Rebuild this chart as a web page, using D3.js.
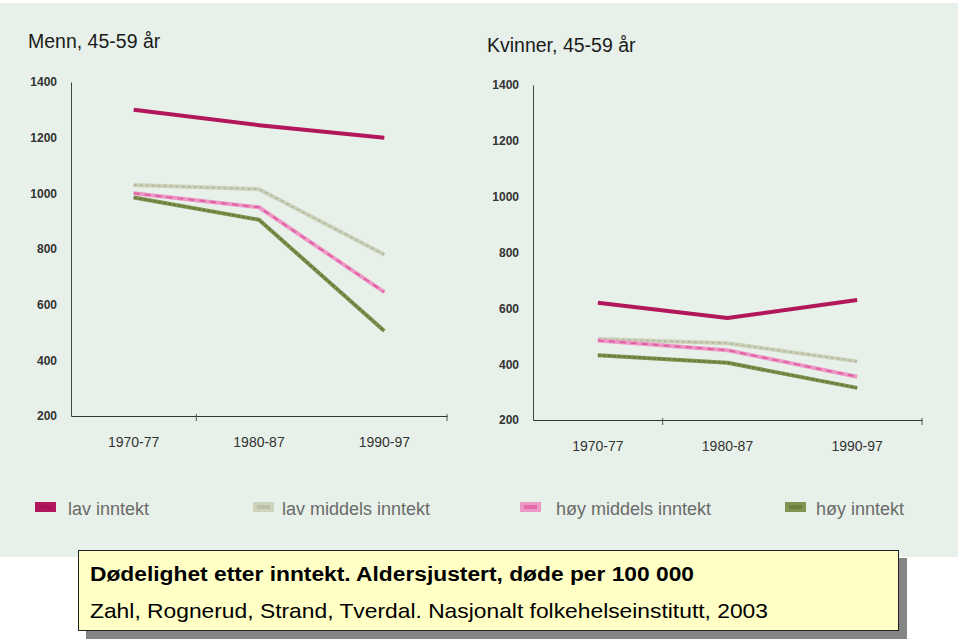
<!DOCTYPE html>
<html><head><meta charset="utf-8">
<script src="https://cdn.jsdelivr.net/npm/d3@7"></script>
<style>body{margin:0;background:#fff}svg{display:block}</style>
</head><body>
<svg id="c" width="960" height="640"></svg>
<script>
const categories = ["1970-77", "1980-87", "1990-97"];
const yTicks = [200, 400, 600, 800, 1000, 1200, 1400];
const seriesNames = ["lav inntekt", "lav middels inntekt", "høy middels inntekt", "høy inntekt"];
const menLav = [1300, 1245, 1200];
const menLavMiddels = [1030, 1015, 780];
const menHoyMiddels = [1000, 950, 645];
const menHoy = [985, 905, 505];
const womenLav = [620, 565, 630];
const womenLavMiddels = [490, 475, 410];
const womenHoyMiddels = [485, 450, 355];
const womenHoy = [432, 405, 315];
const panelTitles = ["Menn, 45-59 år", "Kvinner, 45-59 år"];
const captionTitle = "Dødelighet etter inntekt. Aldersjustert, døde per 100 000";
const captionSource = "Zahl, Rognerud, Strand, Tverdal. Nasjonalt folkehelseinstitutt, 2003";

const styles = [
  {base:"#b3175b", over:"#9c1050", dash:null},
  {base:"#cdd2bb", over:"#a9ae97", dash:"3,3"},
  {base:"#ee98c6", over:"#d63d90", dash:"6,5"},
  {base:"#7f9450", over:"#56692f", dash:"3,2"}
];

const svg = d3.select("#c");
const font = "'Liberation Sans', Arial, sans-serif";

svg.append("rect").attr("x",0).attr("y",3).attr("width",958).attr("height",554).attr("fill","#e7f1e9");

const panels = [
  {title: panelTitles[0], tx:28, ty:48, x0:71, x1:447, yTop:82, yBot:416, data:[menLav, menLavMiddels, menHoyMiddels, menHoy]},
  {title: panelTitles[1], tx:487, ty:52, x0:533, x1:922, yTop:85, yBot:420, data:[womenLav, womenLavMiddels, womenHoyMiddels, womenHoy]}
];

panels.forEach(p => {
  const x = d3.scaleBand().domain(categories).range([p.x0, p.x1]);
  const y = d3.scaleLinear().domain([200, 1400]).range([p.yBot, p.yTop]);
  svg.append("text").attr("x", p.tx).attr("y", p.ty).attr("font-family", font)
    .attr("font-size", 19.5).attr("fill", "#1a1a1a").text(p.title);

  const yAxis = d3.axisLeft(y).tickValues(yTicks).tickSize(0).tickPadding(14).tickFormat(d3.format("d"));
  const gy = svg.append("g").attr("transform", `translate(${p.x0},0)`).call(yAxis);
  gy.select(".domain").attr("stroke", "#444").attr("stroke-width", 1);
  gy.selectAll("text").attr("font-family", font).attr("font-size", 12).attr("font-weight", "bold").attr("fill", "#333");

  const xAxis = d3.axisBottom(x).tickSize(0).tickPadding(21);
  const gx = svg.append("g").attr("transform", `translate(0,${p.yBot})`).call(xAxis);
  gx.select(".domain").attr("stroke", "#333").attr("stroke-width", 1.2);
  gx.selectAll("text").attr("font-family", font).attr("font-size", 14).attr("fill", "#333");
  // band boundary ticks (first boundary and end)
  svg.append("g").selectAll("line").data([categories[1], "end"]).join("line")
    .attr("x1", d => d === "end" ? p.x1 : x(d)).attr("x2", d => d === "end" ? p.x1 : x(d))
    .attr("y1", p.yBot - 2).attr("y2", p.yBot + 5).attr("stroke", "#555").attr("stroke-width", 1);

  const line = d3.line().x((d, i) => x(categories[i]) + x.bandwidth() / 2).y(d => y(d));
  p.data.forEach((vals, si) => {
    const s = styles[si];
    svg.append("path").attr("d", line(vals)).attr("fill", "none").attr("stroke", s.base)
      .attr("stroke-width", 4).attr("stroke-linejoin", "round");
    if (s.dash) {
      svg.append("path").attr("d", line(vals)).attr("fill", "none").attr("stroke", s.over)
        .attr("stroke-width", 2).attr("stroke-dasharray", s.dash).attr("opacity", 0.6);
    }
  });
});

// legend
const legendX = [35, 253, 520, 785];
const legendTextX = [68, 282, 556, 816];
seriesNames.forEach((n, i) => {
  svg.append("rect").attr("x", legendX[i]).attr("y", 502).attr("width", 21).attr("height", 10)
    .attr("fill", styles[i].base);
  svg.append("rect").attr("x", legendX[i] + 4).attr("y", 505).attr("width", 13).attr("height", 4)
    .attr("fill", styles[i].over).attr("opacity", 0.5);
  svg.append("text").attr("x", legendTextX[i]).attr("y", 515).attr("font-family", font)
    .attr("font-size", 18).attr("fill", "#6a6a6a").text(n);
});

// caption box
svg.append("rect").attr("x", 86).attr("y", 558).attr("width", 821).attr("height", 81).attr("fill", "#858585");
svg.append("rect").attr("x", 78.5).attr("y", 550.5).attr("width", 820).attr("height", 80)
  .attr("fill", "#ffffc6").attr("stroke", "#222").attr("stroke-width", 1);
svg.append("text").attr("x", 90).attr("y", 581).attr("font-family", font).attr("font-size", 20)
  .attr("font-weight", "bold").attr("fill", "#000")
  .attr("textLength", 604).attr("lengthAdjust", "spacingAndGlyphs").text(captionTitle);
svg.append("text").attr("x", 90).attr("y", 618).attr("font-family", font).attr("font-size", 21)
  .attr("fill", "#000")
  .attr("textLength", 678).attr("lengthAdjust", "spacingAndGlyphs").text(captionSource);
</script>
</body></html>
